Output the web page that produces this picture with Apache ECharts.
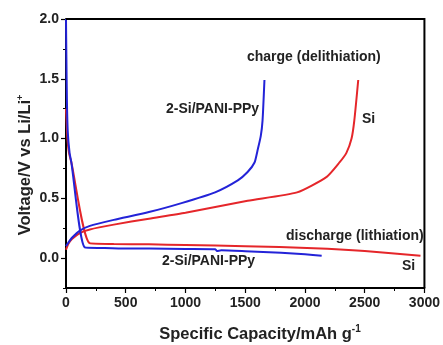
<!DOCTYPE html>
<html>
<head>
<meta charset="utf-8">
<script src="https://cdn.jsdelivr.net/npm/echarts@6/dist/echarts.min.js"></script>
<style>
  html, body { margin: 0; padding: 0; background: #fff; }
  #chart { width: 443px; height: 345px; }
</style>
</head>
<body>
<div id="chart"></div>
<script>
// y tick labels and axis ranges
const yTicks = [0, 0.5, 1.0, 1.5, 2.0];
const xRange = [0, 3000];
const yRange = [-0.25, 2.0];

// 2-Si/PANI-PPy (blue)
const blueDisX = [0, 3, 8, 15, 30, 45, 157, 300, 500, 700, 1000, 1250, 1262, 1300, 1500, 1800, 2000, 2140];
const blueDisY = [2.0, 1.7, 1.3, 1.05, 0.88, 0.8, 0.09, 0.085, 0.08, 0.08, 0.077, 0.075, 0.06, 0.065, 0.058, 0.045, 0.032, 0.02];
const blueChgX = [0, 20, 50, 116, 200, 400, 694, 967, 1248, 1438, 1520, 1578, 1603, 1630, 1645, 1661];
const blueChgY = [0.1, 0.13, 0.17, 0.23, 0.27, 0.32, 0.385, 0.46, 0.55, 0.65, 0.72, 0.8, 0.9, 1.02, 1.15, 1.49];

// Si (red)
const redDisX = [0, 5, 12, 25, 45, 198, 400, 694, 1000, 1500, 2074, 2500, 2967];
const redDisY = [1.25, 1.15, 1.0, 0.88, 0.8, 0.125, 0.118, 0.115, 0.11, 0.1, 0.083, 0.06, 0.02];
const redChgX = [0, 20, 50, 116, 200, 400, 694, 1000, 1520, 1934, 2182, 2289, 2347, 2390, 2413, 2446];
const redChgY = [0.07, 0.12, 0.16, 0.21, 0.24, 0.28, 0.33, 0.38, 0.48, 0.55, 0.68, 0.8, 0.88, 1.0, 1.15, 1.49];

const zip = (xs, ys) => xs.map((x, i) => [x, ys[i]]);

const BLUE = '#2323d8';
const RED = '#e5262a';
const AXIS = '#000000';
const font = 'Liberation Sans, Arial, sans-serif';

const lineSeries = (name, xs, ys, color) => ({
    name: name,
    type: 'line',
    symbol: 'none',
    smooth: 0.2,
    data: zip(xs, ys),
    lineStyle: {color: color, width: 2},
    itemStyle: {color: color},
    z: color === BLUE ? 3 : 2
});

const labelStyle = {fontFamily: font, fontWeight: 'bold', fontSize: 14, fill: '#222'};
const note = (text, left, top) => ({type: 'text', left: left, top: top, style: Object.assign({text: text}, labelStyle)});

const chart = echarts.init(document.getElementById('chart'));
chart.setOption({
    animation: false,
    grid: {left: 66, right: 14, top: 19, bottom: 57},
    xAxis: {
        type: 'value',
        min: xRange[0],
        max: xRange[1],
        interval: 500,
        axisLine: {show: true, onZero: false, lineStyle: {color: AXIS, width: 2}},
        axisTick: {inside: false, length: 5, lineStyle: {color: AXIS, width: 1.2}},
        minorTick: {show: true, splitNumber: 2, length: 3, lineStyle: {color: AXIS, width: 1}},
        splitLine: {show: false},
        axisLabel: {fontFamily: font, fontWeight: 'bold', fontSize: 14, color: '#222', margin: 8, formatter: v => String(v)}
    },
    yAxis: [{
        type: 'value',
        min: yRange[0],
        max: yRange[1],
        axisLine: {show: true, onZero: false, lineStyle: {color: AXIS, width: 2}},
        axisTick: {show: true, length: 5, lineStyle: {color: AXIS, width: 1.2}, customValues: yTicks},
        splitLine: {show: false},
        axisLabel: {
            fontFamily: font, fontWeight: 'bold', fontSize: 14, color: '#222', margin: 7,
            customValues: yTicks,
            formatter: v => v.toFixed(1)
        }
    }, {
        type: 'value',
        position: 'left',
        min: yRange[0],
        max: yRange[1],
        interval: 0.25,
        axisLine: {show: false, onZero: false},
        axisTick: {show: true, length: 3, lineStyle: {color: AXIS, width: 1}},
        axisLabel: {show: false},
        splitLine: {show: false}
    }],
    series: [
        lineSeries('Si charge', redChgX, redChgY, RED),
        lineSeries('Si discharge', redDisX, redDisY, RED),
        lineSeries('2-Si/PANI-PPy charge', blueChgX, blueChgY, BLUE),
        lineSeries('2-Si/PANI-PPy discharge', blueDisX, blueDisY, BLUE)
    ],
    graphic: [
        note('charge (delithiation)', 247, 50),
        note('2-Si/PANI-PPy', 166, 102),
        note('Si', 362, 112),
        note('discharge (lithiation)', 286, 229),
        note('2-Si/PANI-PPy', 162, 254),
        note('Si', 402, 259),
        {
            type: 'text', x: 25, y: 165, rotation: Math.PI / 2,
            style: {
                text: 'Voltage/V vs Li/Li{s|+}', align: 'center', verticalAlign: 'middle',
                fontFamily: font, fontWeight: 'bold', fontSize: 16.5, fill: '#222',
                rich: {s: {fontFamily: font, fontWeight: 'bold', fontSize: 9, fill: '#222', verticalAlign: 'top', padding: [0, 0, 9, 0]}}
            }
        },
        {
            type: 'text', x: 260, y: 334,
            style: {
                text: 'Specific Capacity/mAh g{s|-1}', align: 'center', verticalAlign: 'middle',
                fontFamily: font, fontWeight: 'bold', fontSize: 16.5, fill: '#222',
                rich: {s: {fontFamily: font, fontWeight: 'bold', fontSize: 10, fill: '#222', verticalAlign: 'top', padding: [0, 0, 9, 0]}}
            }
        }
    ]
});

// plot frame (top and right sides) from the axis scales
const tl = chart.convertToPixel({xAxisIndex: 0, yAxisIndex: 0}, [xRange[0], yRange[1]]);
const br = chart.convertToPixel({xAxisIndex: 0, yAxisIndex: 0}, [xRange[1], yRange[0]]);
chart.setOption({
    graphic: [{
        id: 'frame', type: 'polyline', z: 10, silent: true,
        shape: {points: [[tl[0], tl[1]], [br[0], tl[1]], [br[0], br[1]]]},
        style: {fill: null, stroke: AXIS, lineWidth: 2}
    }]
});
</script>
</body>
</html>
